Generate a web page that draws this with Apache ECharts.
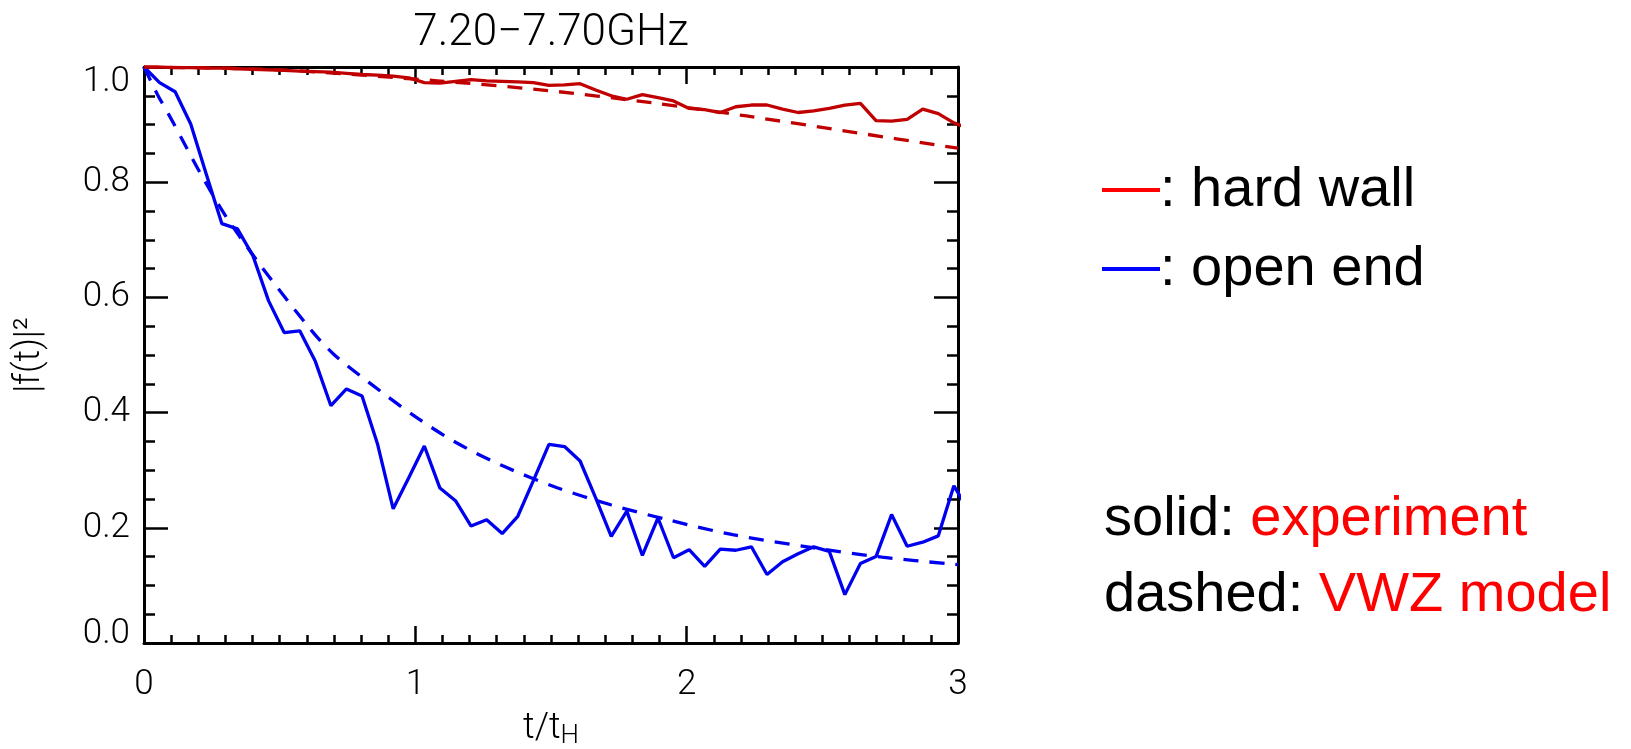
<!DOCTYPE html>
<html>
<head>
<meta charset="utf-8">
<script src="https://cdn.jsdelivr.net/npm/echarts@6/dist/echarts.min.js"></script>
<style>
  html, body { margin: 0; padding: 0; background: #fff; }
  #main { width: 1631px; height: 749px; }
</style>
</head>
<body>
<div id="main"></div>
<script>
// sample spacing of the measured curves (in units of t_H)
var dt = 0.0574;

// solid: experiment, |f(t)|^2
var hardWall = [1.000, 1.000, 0.999, 0.999, 0.998, 0.998, 0.997, 0.996, 0.995, 0.994,
                0.993, 0.992, 0.991, 0.989, 0.987, 0.986, 0.984, 0.981, 0.973, 0.972,
                0.975, 0.978, 0.976, 0.975, 0.974, 0.973, 0.968, 0.969, 0.971, 0.960,
                0.950, 0.944, 0.952, 0.947, 0.941, 0.928, 0.926, 0.921, 0.931, 0.934,
                0.934, 0.927, 0.921, 0.924, 0.928, 0.934, 0.937, 0.907, 0.906, 0.909,
                0.927, 0.919, 0.903, 0.893];
var openEnd = [1.000, 0.973, 0.957, 0.901, 0.814, 0.728, 0.719, 0.672, 0.594, 0.539,
               0.542, 0.489, 0.412, 0.441, 0.429, 0.345, 0.233, 0.287, 0.342, 0.269,
               0.247, 0.203, 0.214, 0.190, 0.220, 0.282, 0.345, 0.341, 0.316, 0.252,
               0.185, 0.229, 0.152, 0.217, 0.148, 0.162, 0.133, 0.163, 0.161, 0.167,
               0.119, 0.141, 0.155, 0.167, 0.159, 0.084, 0.138, 0.150, 0.223, 0.168,
               0.175, 0.186, 0.273, 0.227];

// dashed: VWZ model, [t, |f(t)|^2]
var hardWallModel = [[0, 1.000], [0.5, 0.995], [1.08, 0.976], [1.47, 0.960], [1.87, 0.938],
                     [2.22, 0.915], [2.61, 0.887], [3.0, 0.859]];
var openEndModel = [[0, 1.000], [0.05, 0.952], [0.1, 0.910], [0.15, 0.866], [0.2, 0.822],
                    [0.3, 0.742], [0.44, 0.649], [0.62, 0.541], [0.7, 0.501], [0.83, 0.452],
                    [1.0, 0.393], [1.15, 0.348], [1.32, 0.308], [1.52, 0.270], [1.72, 0.240],
                    [1.93, 0.214], [2.17, 0.188], [2.47, 0.165], [2.72, 0.149], [3.0, 0.136]];

var xTicks = [0, 1, 2, 3];
var yTicks = [0, 0.2, 0.4, 0.6, 0.8, 1.0];

function withTime(arr) {
  return arr.map(function (v, i) { return [+(i * dt).toFixed(4), v]; });
}

var chart = echarts.init(document.getElementById('main'));

var black = '#000';
var tickFont = { fontFamily: 'Roboto', fontWeight: 300, fontSize: 35, color: black };

function xAx(pos, show) {
  return {
    type: 'value', position: pos, min: xTicks[0], max: xTicks[xTicks.length - 1], interval: 1,
    axisLine: { show: true, onZero: false, lineStyle: { color: black, width: 3 } },
    axisTick: { show: true, inside: true, length: 17, lineStyle: { color: black, width: 2.5 } },
    minorTick: { show: true, splitNumber: 10, length: 8, lineStyle: { color: black, width: 2.5 } },
    splitLine: { show: false },
    axisLabel: Object.assign({ show: show, margin: 25 }, tickFont)
  };
}
function yAx(pos, show) {
  return {
    type: 'value', position: pos, min: yTicks[0], max: yTicks[yTicks.length - 1], interval: 0.2,
    axisLine: { show: true, onZero: false, lineStyle: { color: black, width: 3 } },
    axisTick: { show: true, inside: true, length: 24, lineStyle: { color: black, width: 2.5 } },
    minorTick: { show: true, splitNumber: 4, length: 11, lineStyle: { color: black, width: 2.5 } },
    splitLine: { show: false },
    axisLabel: Object.assign({
      show: show, margin: 14,
      formatter: function (v) {
        var s = v.toFixed(1);
        if (v >= 1) return '{top|' + s + '}';
        if (v <= 0) return '{bot|' + s + '}';
        return s;
      },
      rich: {
        top: Object.assign({ padding: [30, 0, 0, 0] }, tickFont),
        bot: Object.assign({ padding: [0, 0, 18, 0] }, tickFont)
      }
    }, tickFont)
  };
}

var bottomX = xAx('bottom', true);
bottomX.name = 't/t{sub|H}';
bottomX.nameLocation = 'middle';
bottomX.nameGap = 66;
bottomX.nameTextStyle = {
  fontFamily: 'Roboto', fontWeight: 300, fontSize: 36, color: black,
  rich: { sub: { fontFamily: 'Roboto', fontWeight: 300, fontSize: 26, color: black, verticalAlign: 'bottom', padding: [14, 0, 0, 0] } }
};
var leftY = yAx('left', true);
leftY.name = '|f(t)|²';
leftY.nameLocation = 'middle';
leftY.nameGap = 96;
leftY.nameTextStyle = { fontFamily: 'Roboto', fontWeight: 300, fontSize: 36, color: black };

var legendFont = '56px "Liberation Sans", Arial, sans-serif';

option = {
  animation: false,
  backgroundColor: '#fff',
  grid: { left: 144, right: 673, top: 67, bottom: 106, containLabel: false, outerBoundsMode: 'none' },
  xAxis: [bottomX, xAx('top', false)],
  yAxis: [leftY, yAx('right', false)],
  series: [
    { type: 'line', name: 'open end', data: withTime(openEnd), showSymbol: false, symbol: 'none',
      lineStyle: { color: '#0000f0', width: 3.3 }, clip: true, z: 3 },
    { type: 'line', name: 'open end model', data: openEndModel, showSymbol: false, symbol: 'none',
      smooth: 0.3, lineStyle: { color: '#0000f0', width: 3.3, type: [15, 11] }, clip: true, z: 2 },
    { type: 'line', name: 'hard wall', data: withTime(hardWall), showSymbol: false, symbol: 'none',
      lineStyle: { color: '#c00000', width: 3.3 }, clip: true, z: 4 },
    { type: 'line', name: 'hard wall model', data: hardWallModel, showSymbol: false, symbol: 'none',
      smooth: 0.3, lineStyle: { color: '#c00000', width: 3.3, type: [15, 11] }, clip: true, z: 2 }
  ],
  graphic: [
    { type: 'text', x: 551, y: 34, style: {
        text: '7.20−7.70GHz', textAlign: 'center', textVerticalAlign: 'middle',
        font: '300 44px Roboto', fill: black } },
    { type: 'line', shape: { x1: 1102, y1: 190, x2: 1160, y2: 190 }, style: { stroke: '#ff0000', lineWidth: 4 } },
    { type: 'text', x: 1160, y: 191, style: { text: ': hard wall', font: legendFont, fill: black, verticalAlign: 'middle' } },
    { type: 'line', shape: { x1: 1102, y1: 269, x2: 1160, y2: 269 }, style: { stroke: '#0000ff', lineWidth: 4 } },
    { type: 'text', x: 1160, y: 270, style: { text: ': open end', font: legendFont, fill: black, verticalAlign: 'middle' } },
    { type: 'text', x: 1104, y: 520, style: {
        text: 'solid: {r|experiment}', font: legendFont, fill: black, verticalAlign: 'middle',
        rich: { r: { font: legendFont, fill: '#ff0000' } } } },
    { type: 'text', x: 1104, y: 596, style: {
        text: 'dashed: {r|VWZ model}', font: legendFont, fill: black, verticalAlign: 'middle',
        rich: { r: { font: legendFont, fill: '#ff0000' } } } }
  ]
};
chart.setOption(option);
</script>
</body>
</html>
